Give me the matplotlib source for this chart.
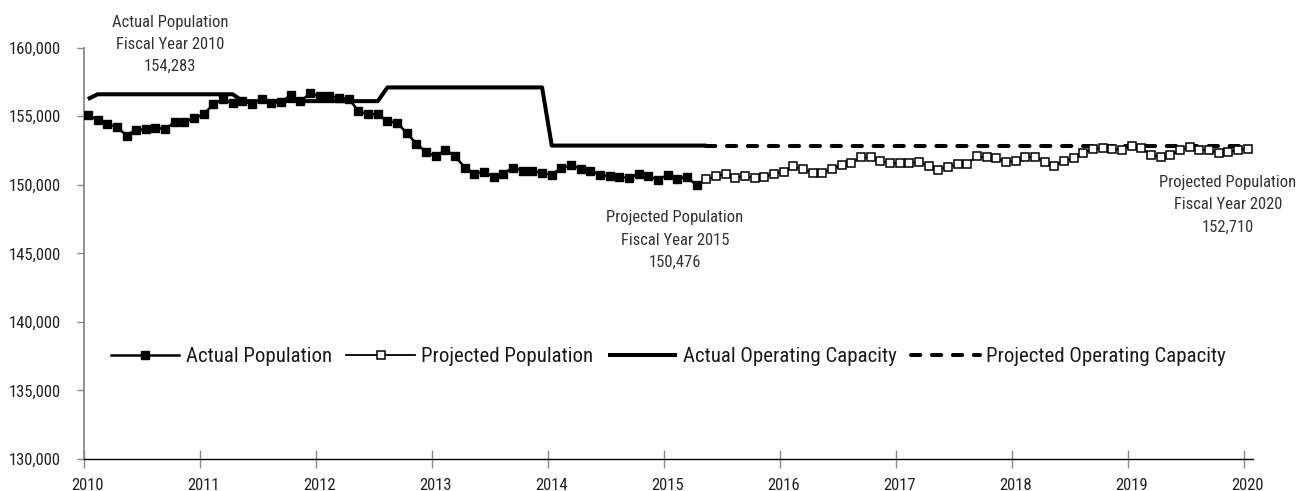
import numpy as np
import matplotlib
matplotlib.use("Agg")
import matplotlib.pyplot as plt
from matplotlib import font_manager, transforms
from matplotlib.ticker import FuncFormatter

# monthly inmate population, month 0 = start of 2010
actual_pop = [
    155080, 154750, 154420, 154230, 153590, 154030, 154040, 154150, 154060, 154570, 154570, 154870,
    155130, 155900, 156230, 155940, 156130, 155880, 156230, 155980, 156010, 156560, 156080, 156670,
    156440, 156460, 156350, 156280, 155370, 155140, 155160, 154620, 154540, 153760, 153000, 152380,
    152080, 152550, 152080, 151260, 150820, 150940, 150570, 150820, 151260, 151010, 151010, 150860,
    150740, 151230, 151430, 151180, 151010, 150740, 150620, 150570, 150500, 150820, 150620, 150380,
    150720, 150450, 150570, 149950,
]
projected_pop = [
    150400, 150620, 150770, 150520, 150640, 150500, 150570, 150820, 150940, 151350, 151130, 150890,
    150860, 151180, 151430, 151620, 151990, 151990, 151720, 151590, 151590, 151590, 151670, 151370,
    151110, 151300, 151510, 151550, 152080, 151990, 151920, 151670, 151740, 152030, 152030, 151670,
    151370, 151740, 151920, 152330, 152600, 152690, 152600, 152570, 152810, 152690, 152160, 152030,
    152160, 152520, 152760, 152570, 152520, 152330, 152400, 152520, 152640,
]

# operating capacity, given at the months where it changes
capacity_months = [0, 1, 15, 16, 30, 31, 47, 48, 64]
capacity_values = [156250, 156600, 156600, 156100, 156100, 157100, 157100, 152860, 152860]
proj_capacity_months = [64, 120]
proj_capacity_values = [152860, 152860]

notes = [
    (2010.74, 160250, "Actual Population\nFiscal Year 2010\n154,283"),
    (2015.095, 145970, "Projected Population\nFiscal Year 2015\n150,476"),
    (2019.862, 148530, "Projected Population\nFiscal Year 2020\n152,710"),
]

year_ticks = list(range(2010, 2021))
pop_ticks = list(range(130000, 160001, 5000))


def month_to_year(m):
    # observations sit a little after the start of each month
    return 2010 + (np.asarray(m, dtype=float) + 0.4) / 12


names = {f.name for f in font_manager.fontManager.ttflist}
narrow = next(
    (n for n in ["Liberation Sans Narrow", "DejaVu Sans Condensed", "Roboto Condensed"] if n in names),
    "DejaVu Sans",
)
plt.rcParams["font.family"] = [narrow, "DejaVu Sans"]

fig = plt.figure(figsize=(13.04, 4.91), dpi=100)
ax = fig.add_axes([0.0644, 0.0652, 0.8965, 0.8377])

n_act = len(actual_pop)
act_x = month_to_year(np.arange(n_act))
proj_x = month_to_year(np.arange(n_act - 1, n_act + len(projected_pop)))

ax.plot(month_to_year(capacity_months), capacity_values, color="black", lw=2.9,
        solid_capstyle="butt", zorder=2, label="Actual Operating Capacity")
ax.plot(month_to_year(proj_capacity_months), proj_capacity_values, color="black", lw=2.9,
        dashes=(2.3, 2.9), dash_capstyle="round", zorder=2, label="Projected Operating Capacity")
ax.plot(act_x, actual_pop, color="black", lw=1.8, marker="s", ms=6, mfc="black", mec="black",
        zorder=3, label="Actual Population")
# projected line starts at the last actual month so the two series join
ax.plot(proj_x, [actual_pop[-1]] + projected_pop, color="black", lw=1.3, marker="s", ms=5.3,
        mfc="white", mec="black", mew=1.1, markevery=slice(1, None), zorder=4,
        label="Projected Population")

ax.set_xlim(2010, 2020.08)
ax.set_ylim(130000, 160000)
ax.set_xticks(year_ticks)
ax.set_yticks(pop_ticks)
ax.yaxis.set_major_formatter(FuncFormatter(lambda v, p: f"{int(v):,}"))

for s in ["top", "right"]:
    ax.spines[s].set_visible(False)
ax.spines["left"].set_color("#8a8a8a")
ax.spines["left"].set_linewidth(1.3)
ax.spines["bottom"].set_color("black")
ax.spines["bottom"].set_linewidth(1.0)

ax.tick_params(axis="y", direction="out", length=5, width=1, color="#8a8a8a", pad=11.5,
               labelsize=12, labelcolor="#222222")
ax.tick_params(axis="x", direction="inout", length=13, width=1, color="#8a8a8a", pad=7,
               labelsize=12, labelcolor="#222222")
shift = transforms.ScaledTranslation(4 / 100, 0, fig.dpi_scale_trans)
for lab in ax.get_xticklabels():
    lab.set_transform(lab.get_transform() + shift)

for x, y, txt in notes:
    ax.text(x, y, txt, ha="center", va="center", fontsize=12, linespacing=1.6,
            color="#333333", clip_on=False)

h, l = ax.get_legend_handles_labels()
order = [2, 3, 0, 1]
ax.legend([h[i] for i in order], [l[i] for i in order], loc="center",
          bbox_to_anchor=(0.5, 0.248), ncol=4, frameon=False, fontsize=15,
          handlelength=3.3, handletextpad=0.3, columnspacing=0.7, numpoints=1,
          labelcolor="#1a1a1a")

fig.savefig("out.png", dpi=100)
